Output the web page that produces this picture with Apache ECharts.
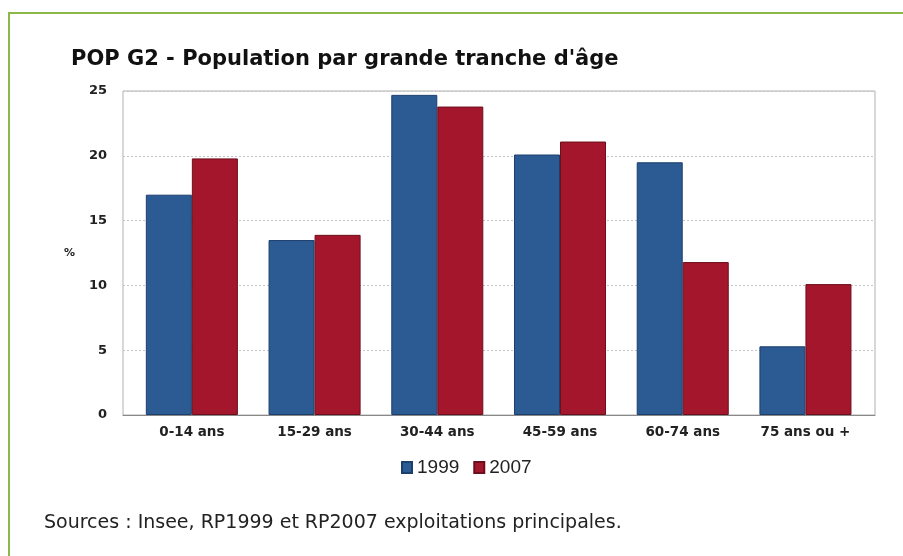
<!DOCTYPE html>
<html>
<head>
<meta charset="utf-8">
<script src="https://cdn.jsdelivr.net/npm/echarts@6/dist/echarts.min.js"></script>
<style>
  html, body { margin: 0; padding: 0; background: #fff; }
  #chart { width: 903px; height: 556px; }
</style>
</head>
<body>
<div id="chart"></div>
<script>
// tranches d'âge
const categories = ['0-14 ans', '15-29 ans', '30-44 ans', '45-59 ans', '60-74 ans', '75 ans ou +']
const values1999 = [17.0, 13.5, 24.7, 20.1, 19.5, 5.3]
const values2007 = [19.8, 13.9, 23.8, 21.1, 11.8, 10.1]
const yTicks = [0, 5, 10, 15, 20, 25]

const labelFont = { fontFamily: 'DejaVu Sans', fontWeight: 'bold', color: '#222' }

const chart = echarts.init(document.getElementById('chart'))
chart.setOption({
  animation: false,
  title: {
    text: "POP G2 - Population par grande tranche d'âge",
    left: 66,
    top: 44,
    textStyle: { fontFamily: 'DejaVu Sans', fontWeight: 'bold', fontSize: 21, color: '#111' }
  },
  legend: {
    data: ['1999', '2007'],
    left: 396,
    top: 453,
    itemWidth: 10,
    itemHeight: 11,
    itemGap: 14,
    icon: 'rect',
    textStyle: { fontFamily: 'Liberation Sans', fontSize: 19, color: '#222' }
  },
  // grid 0 : cadre + graduations, grid 1 : barres (marge intérieure)
  grid: [
    { left: 123, right: 28, top: 91, bottom: 141, show: true, borderColor: '#b0b0b0', borderWidth: 1 },
    { left: 130.5, right: 36.2, top: 91, bottom: 141 }
  ],
  xAxis: [
    {
      type: 'category',
      gridIndex: 0,
      data: categories,
      axisLine: { lineStyle: { color: '#888' } },
      axisTick: { show: false },
      axisLabel: { show: false }
    },
    {
      type: 'category',
      gridIndex: 1,
      data: categories,
      axisLine: { show: false },
      axisTick: { show: false },
      axisLabel: Object.assign({ fontSize: 13.5, margin: 10 }, labelFont)
    }
  ],
  yAxis: [
    {
      type: 'value',
      gridIndex: 0,
      min: yTicks[0],
      max: yTicks[yTicks.length - 1],
      interval: 5,
      name: '%',
      nameLocation: 'middle',
      nameRotate: 0,
      nameGap: 48,
      nameTextStyle: Object.assign({ fontSize: 11 }, labelFont),
      axisLine: { show: false },
      axisTick: { show: false },
      axisLabel: Object.assign({ fontSize: 13, margin: 16 }, labelFont),
      splitLine: { lineStyle: { color: '#c4c4c4', type: [2, 2] } }
    },
    {
      type: 'value',
      gridIndex: 1,
      min: yTicks[0],
      max: yTicks[yTicks.length - 1],
      interval: 5,
      show: false,
      splitLine: { show: false }
    }
  ],
  series: [
    {
      name: '1999',
      type: 'bar',
      xAxisIndex: 1,
      yAxisIndex: 1,
      data: values1999,
      barGap: '0%',
      barCategoryGap: '25%',
      itemStyle: { color: '#2c5a92', borderColor: '#1c3f6e', borderWidth: 1 }
    },
    {
      name: '2007',
      type: 'bar',
      xAxisIndex: 1,
      yAxisIndex: 1,
      data: values2007,
      itemStyle: { color: '#a4162c', borderColor: '#6e0e1c', borderWidth: 1 }
    }
  ],
  graphic: [
    {
      type: 'rect',
      shape: { x: 9, y: 13, width: 910, height: 560 },
      style: { fill: 'none', stroke: '#8cb84a', lineWidth: 2 },
      silent: true
    },
    {
      type: 'text',
      left: 44,
      top: 514,
      style: {
        text: 'Sources : Insee, RP1999 et RP2007 exploitations principales.',
        fontFamily: 'DejaVu Sans',
        fontSize: 19,
        fill: '#222'
      }
    }
  ]
})
</script>
</body>
</html>
